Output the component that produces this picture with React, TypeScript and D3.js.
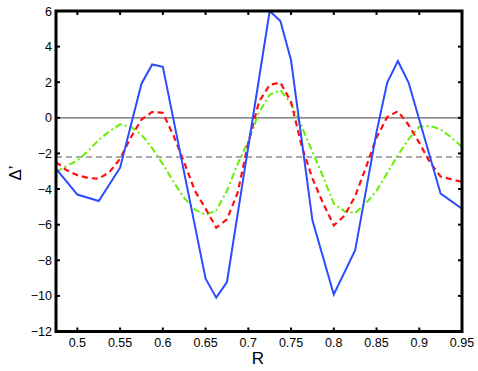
import React from "react";
import * as d3 from "d3";

const blueR = [0.475, 0.5, 0.525, 0.55, 0.575, 0.5875, 0.6, 0.65, 0.6625, 0.675, 0.725, 0.7375, 0.75, 0.775, 0.8, 0.825, 0.85, 0.8625, 0.875, 0.8875, 0.925, 0.95];
const blueV = [-2.85, -4.31, -4.67, -2.8, 1.92, 3.0, 2.87, -9.03, -10.1, -9.22, 6.0, 5.44, 3.23, -5.76, -9.92, -7.44, -0.8, 1.98, 3.19, 1.98, -4.26, -5.1];

const gridR = [0.475, 0.4875, 0.5, 0.5125, 0.525, 0.5375, 0.55, 0.5625, 0.575, 0.5875, 0.6, 0.6125, 0.625, 0.6375, 0.65, 0.6625, 0.675, 0.6875, 0.7, 0.7125, 0.725, 0.7375, 0.75, 0.7625, 0.775, 0.7875, 0.8, 0.8125, 0.825, 0.8375, 0.85, 0.8625, 0.875, 0.8875, 0.9, 0.9125, 0.925, 0.9375, 0.95];
const redV = [-2.48, -2.95, -3.22, -3.38, -3.42, -3.05, -2.3, -1.1, -0.1, 0.33, 0.28, -1.0, -2.5, -4.1, -5.1, -6.17, -5.7, -4.2, -1.4, 0.9, 1.85, 1.98, 0.9, -1.6, -3.4, -4.8, -6.04, -5.5, -4.4, -2.8, -1.1, 0.04, 0.37, -0.4, -1.4, -2.5, -3.3, -3.45, -3.6];
const greenV = [-3.04, -2.7, -2.4, -1.85, -1.25, -0.75, -0.37, -0.5, -0.95, -1.7, -2.6, -3.6, -4.5, -5.15, -5.45, -5.2, -4.1, -2.6, -1.3, 0.3, 1.3, 1.55, 0.8, -0.5, -1.9, -3.3, -4.82, -5.25, -5.35, -4.8, -4.1, -3.1, -2.1, -1.2, -0.5, -0.45, -0.65, -1.1, -1.64];

const xTicks = [0.5, 0.55, 0.6, 0.65, 0.7, 0.75, 0.8, 0.85, 0.9, 0.95];
const yTicks = [6, 4, 2, 0, -2, -4, -6, -8, -10, -12];
const refLevel = -2.2;

const L = 56, R = 462, T = 11, B = 331.5;

export default function App() {
  const x = d3.scaleLinear().domain([0.475, 0.95]).range([L, R]);
  const y = d3.scaleLinear().domain([-12, 6]).range([B, T]);
  const line = d3.line<[number, number]>().x(d => x(d[0])).y(d => y(d[1]));
  const blue = line(blueR.map((r, i) => [r, blueV[i]]))!;
  const red = line(gridR.map((r, i) => [r, redV[i]]))!;
  const green = line(gridR.map((r, i) => [r, greenV[i]]))!;
  const font = "'Liberation Sans', Arial, Helvetica, sans-serif";
  const fmt = (v: number) => (v < 0 ? "\u2212" + Math.abs(v) : String(v));
  return (
    <svg width={478} height={371} style={{ position: "absolute", left: 0, top: 0 }} fontFamily={font}>
      <rect x={0} y={0} width={478} height={371} fill="#fff" />
      <defs>
        <clipPath id="plot">
          <rect x={L} y={T} width={R - L} height={B - T} />
        </clipPath>
      </defs>
      <g clipPath="url(#plot)">
        <line x1={L} x2={R} y1={y(0)} y2={y(0)} stroke="#666" strokeWidth={1.2} />
        <line x1={L} x2={R} y1={y(refLevel)} y2={y(refLevel)} stroke="#555" strokeWidth={1} strokeDasharray="6,4" />
        <path d={green} fill="none" stroke="#66ee00" strokeWidth={2} strokeDasharray="7,3,2,3" />
        <path d={red} fill="none" stroke="#ff1010" strokeWidth={2.2} strokeDasharray="6,4" />
        <path d={blue} fill="none" stroke="#2b4cff" strokeWidth={2} strokeLinejoin="miter" />
      </g>
      {xTicks.map(t => (
        <g key={"x" + t}>
          <line x1={x(t)} x2={x(t)} y1={B} y2={B - 4} stroke="#000" strokeWidth={2} />
          <line x1={x(t)} x2={x(t)} y1={T} y2={T + 4} stroke="#000" strokeWidth={2} />
          <text x={x(t)} y={347} fontSize={12.5} textAnchor="middle" fill="#000">{String(t)}</text>
        </g>
      ))}
      {yTicks.map(t => (
        <g key={"y" + t}>
          <line x1={L} x2={L + 4} y1={y(t)} y2={y(t)} stroke="#000" strokeWidth={2} />
          <line x1={R} x2={R - 4} y1={y(t)} y2={y(t)} stroke="#000" strokeWidth={2} />
          <text x={52} y={y(t) + 4.5} fontSize={12.5} textAnchor="end" fill="#000">{fmt(t)}</text>
        </g>
      ))}
      <rect x={L} y={T} width={R - L} height={B - T} fill="none" stroke="#000" strokeWidth={3} />
      <text x={258} y={364} fontSize={17} textAnchor="middle" fill="#000">R</text>
      <text transform="translate(21,173) rotate(-90)" fontSize={17} textAnchor="middle" fill="#000">Δ’</text>
    </svg>
  );
}
